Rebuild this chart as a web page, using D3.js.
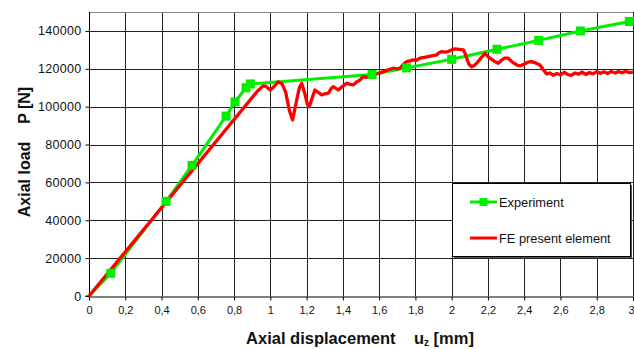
<!DOCTYPE html>
<html><head><meta charset="utf-8">
<script src="https://cdn.jsdelivr.net/npm/d3@7"></script>
<style>
body{margin:0;background:#fff;}
svg{display:block;font-family:Arial,"Liberation Sans",sans-serif;}
text{white-space:pre;}
</style></head>
<body><svg id="c" width="634" height="349"></svg>
<script>
const xTicks = [0,0.2,0.4,0.6,0.8,1,1.2,1.4,1.6,1.8,2,2.2,2.4,2.6,2.8,3];
const yTicks = [0,20000,40000,60000,80000,100000,120000,140000];
const seriesNames = ["Experiment","FE present element"];

const expX = [0,0.12,0.425,0.568,0.756,0.805,0.866,0.89,1.561,1.752,2.0,2.25,2.48,2.71,2.98];
const expY = [0,12000,50000,69000,95000,102500,110000,112000,117000,120500,125000,130300,135000,140000,145000];

const feX = [0,0.5,0.93,0.96,0.975,1.0,1.02,1.043,1.065,1.085,1.105,1.123,1.14,1.16,1.173,1.19,1.205,1.215,1.23,1.246,1.265,1.283,1.30,1.32,1.335,1.347,1.36,1.375,1.395,1.421,1.44,1.458,1.475,1.494,1.513,1.53,1.55,1.57,1.594,1.61,1.623,1.65,1.678,1.70,1.715,1.735,1.752,1.77,1.788,1.805,1.825,1.85,1.871,1.89,1.917,1.93,1.945,1.965,1.981,2.0,2.018,2.04,2.064,2.075,2.083,2.095,2.11,2.125,2.138,2.16,2.184,2.2,2.211,2.235,2.257,2.275,2.29,2.312,2.335,2.36,2.377,2.40,2.42,2.441,2.465,2.487,2.505,2.524,2.54,2.56,2.58,2.60,2.62,2.64,2.66,2.68,2.70,2.72,2.74,2.76,2.78,2.80,2.82,2.84,2.86,2.88,2.90,2.92,2.94,2.96,2.98,3.0];
const feY = [0,58250,108300,111000,110800,108800,110500,113200,112000,107500,98000,93000,101000,110000,112400,107000,101000,100000,104500,108800,107500,106200,106800,107100,109500,110600,109800,108800,110500,112400,111800,111500,113000,114100,115900,115500,115900,116800,117500,118000,118500,119500,120300,120000,120300,122500,123800,124200,124700,124400,125600,126000,126400,126800,127300,128500,129100,128800,129100,130000,130500,130300,130000,128000,125600,122500,121100,121800,122900,125500,128200,126500,125600,124000,122900,124500,125600,125600,123500,122000,121500,122500,123500,123800,123000,122000,119500,117300,117800,116600,117500,116800,118200,117000,116500,117800,117200,118300,117000,118000,117400,118500,117600,118400,117500,118600,117800,118500,117900,118700,118000,118200];

const svg = d3.select("#c");
const L = 89, R = 633, T = 12, B = 296;
const x = d3.scaleLinear().domain([0,3]).range([L,R]);
const y = d3.scaleLinear().domain([0,150000]).range([B,T]);
const green = "#00ee00", red = "#ff0000";

// grid
const g = svg.append("g");
g.selectAll(".vx").data(xTicks.slice(1)).join("line")
  .attr("x1",d=>Math.round(x(d))+0.5).attr("x2",d=>Math.round(x(d))+0.5)
  .attr("y1",T).attr("y2",B).attr("stroke","#222").attr("stroke-width",1);
g.selectAll(".hy").data(yTicks.slice(1).concat([150000])).join("line")
  .attr("y1",d=>Math.round(y(d))+0.5).attr("y2",d=>Math.round(y(d))+0.5)
  .attr("x1",L).attr("x2",R).attr("stroke",d=>d===150000?"#888":"#222").attr("stroke-width",1);

// axes
const xAxis = d3.axisBottom(x).tickValues(xTicks).tickSize(4).tickPadding(6)
  .tickFormat(d=>String(d).replace(".",","));
const xa = svg.append("g").attr("transform",`translate(0,${B+0.5})`).call(xAxis);
xa.select(".domain").attr("stroke","#000");
xa.selectAll("text").attr("font-size",11).attr("fill","#111").attr("font-family","Arial, 'Liberation Sans', sans-serif");
xa.selectAll(".tick").filter(d=>d===3).select("text").attr("text-anchor","end").attr("x",1);
const yAxis = d3.axisLeft(y).tickValues(yTicks).tickSize(4).tickPadding(4).tickFormat(d=>String(d));
const ya = svg.append("g").attr("transform",`translate(${L+0.5},0)`).call(yAxis);
ya.select(".domain").attr("stroke","#000").attr("d",`M-4,${B}H0V${T}`);
ya.selectAll("text").attr("font-size",12.5).attr("letter-spacing","0.3px").attr("fill","#111").attr("font-family","Arial, 'Liberation Sans', sans-serif");

// lines
const line = d3.line().x(d=>x(d[0])).y(d=>y(d[1]));
const expData = expX.map((v,i)=>[v,expY[i]]);
const feData = feX.map((v,i)=>[v,feY[i]]);
svg.append("path").datum(expData).attr("d",line).attr("fill","none")
  .attr("stroke",green).attr("stroke-width",3).attr("stroke-linejoin","round");
svg.append("path").datum(feData).attr("d",line).attr("fill","none")
  .attr("stroke",red).attr("stroke-width",3.3).attr("stroke-linejoin","round");
svg.selectAll(".m").data(expData.slice(1)).join("rect")
  .attr("x",d=>x(d[0])-4.5).attr("y",d=>y(d[1])-4.5).attr("width",9).attr("height",9).attr("fill",green);

// legend
const lg = svg.append("g");
lg.append("rect").attr("x",454).attr("y",185).attr("width",178).attr("height",73).attr("fill","#555");
lg.append("rect").attr("x",452.5).attr("y",183.5).attr("width",178).attr("height",73).attr("fill","#fff").attr("stroke","#000");
const legY = [202,238], legC = [green,red];
seriesNames.forEach((n,i)=>{
  lg.append("line").attr("x1",470).attr("x2",497).attr("y1",legY[i]).attr("y2",legY[i])
    .attr("stroke",legC[i]).attr("stroke-width",3);
  if(i===0) lg.append("rect").attr("x",479.5).attr("y",legY[i]-4).attr("width",8).attr("height",8).attr("fill",green);
  lg.append("text").attr("x",499).attr("y",legY[i]+4.5).attr("font-size",12.8).attr("fill","#111").text(n);
});

// titles
const xt = svg.append("text").attr("x",360).attr("y",344).attr("text-anchor","middle")
  .attr("font-size",16.5).attr("font-weight","bold").attr("fill","#111");
xt.append("tspan").text("Axial displacement    u");
xt.append("tspan").attr("font-size",10).attr("dy",2).text("z");
xt.append("tspan").attr("dy",-2).text(" [mm]");
svg.append("text").attr("transform","translate(30,152) rotate(-90)").attr("text-anchor","middle")
  .attr("font-size",16).attr("font-weight","bold").attr("fill","#111").text("Axial load    P [N]");
</script></body></html>
